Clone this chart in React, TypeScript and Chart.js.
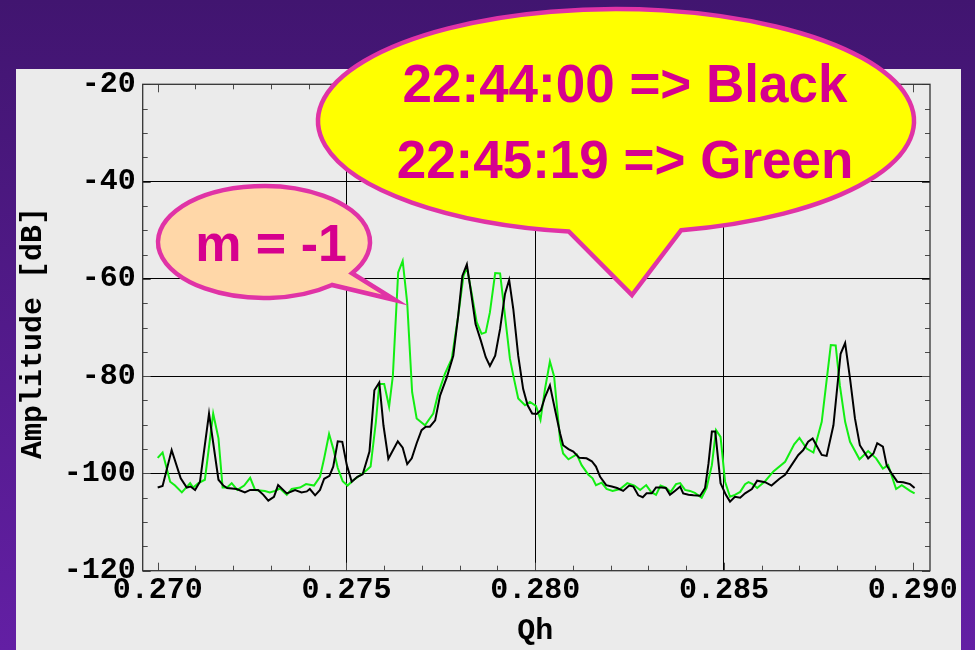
import React, { useEffect, useRef } from "react";
import { Chart, registerables } from "chart.js";

Chart.register(...registerables);

// ---- data ----
const blackQh = [
  0.27000, 0.27013, 0.27037, 0.27061, 0.27077, 0.27087, 0.27099, 0.27112, 0.27136, 0.27161,
  0.27174, 0.27184, 0.27209, 0.27231, 0.27245, 0.27266, 0.27280, 0.27293, 0.27308, 0.27319,
  0.27342, 0.27364, 0.27381, 0.27395, 0.27403, 0.27417, 0.27430, 0.27441, 0.27455, 0.27465,
  0.27477, 0.27489, 0.27501, 0.27514, 0.27529, 0.27543, 0.27561, 0.27574, 0.27587, 0.27598,
  0.27611, 0.27636, 0.27649, 0.27661, 0.27673, 0.27686, 0.27699, 0.27710, 0.27721, 0.27735,
  0.27748, 0.27766, 0.27783, 0.27796, 0.27807, 0.27819, 0.27830, 0.27842, 0.27856, 0.27869,
  0.27880, 0.27894, 0.27907, 0.27920, 0.27931, 0.27942, 0.27955, 0.27968, 0.27980, 0.27992,
  0.28004, 0.28015, 0.28026, 0.28039, 0.28052, 0.28066, 0.28074, 0.28088, 0.28101, 0.28117,
  0.28136, 0.28150, 0.28161, 0.28172, 0.28188, 0.28203, 0.28217, 0.28233, 0.28249, 0.28260,
  0.28273, 0.28285, 0.28295, 0.28309, 0.28320, 0.28335, 0.28346, 0.28357, 0.28370, 0.28384,
  0.28392, 0.28406, 0.28419, 0.28437, 0.28450, 0.28459, 0.28468, 0.28477, 0.28491, 0.28505,
  0.28516, 0.28529, 0.28543, 0.28556, 0.28574, 0.28588, 0.28609, 0.28626, 0.28647, 0.28662,
  0.28679, 0.28697, 0.28710, 0.28723, 0.28735, 0.28747, 0.28759, 0.28772, 0.28790, 0.28809,
  0.28821, 0.28834, 0.28847, 0.28860, 0.28882, 0.28896, 0.28906, 0.28921, 0.28931, 0.28944,
  0.28959, 0.28975, 0.28993, 0.29005,
];
const blackDb = [
  -102.9, -102.6, -95.2, -101.0, -102.9, -102.7, -103.4, -101.7, -87.7, -101.3,
  -102.5, -103.0, -103.2, -103.9, -103.4, -103.4, -104.4, -105.6, -104.8, -102.4,
  -104.1, -103.4, -103.9, -103.7, -103.2, -104.5, -103.4, -101.1, -100.5, -98.6,
  -93.4, -93.5, -98.3, -101.7, -100.7, -100.2, -95.5, -82.9, -81.3, -90.1,
  -97.0, -93.4, -94.7, -98.1, -96.9, -93.8, -91.1, -90.4, -90.4, -89.1,
  -84.0, -80.2, -75.8, -67.6, -59.4, -57.0, -62.8, -69.3, -72.7, -76.1,
  -77.9, -75.8, -70.3, -63.1, -60.2, -66.2, -75.8, -82.6, -86.0, -87.7,
  -87.8, -87.0, -84.3, -81.9, -86.7, -91.8, -94.2, -95.0, -95.5, -96.8,
  -96.9, -97.5, -98.6, -100.7, -102.4, -102.7, -103.0, -103.6, -102.5, -102.7,
  -104.5, -104.9, -104.1, -104.1, -102.9, -102.9, -103.0, -104.4, -103.6, -102.7,
  -104.1, -104.4, -104.5, -104.6, -103.0, -98.0, -91.4, -91.4, -102.0, -104.4,
  -105.8, -104.8, -105.0, -104.1, -103.2, -101.5, -101.8, -102.5, -101.1, -100.3,
  -98.3, -96.2, -95.2, -93.5, -92.8, -94.5, -96.2, -96.4, -90.1, -75.4,
  -73.2, -80.5, -88.7, -94.2, -96.9, -95.9, -93.8, -94.5, -98.3, -100.0,
  -101.7, -101.8, -102.2, -103.0,
];

const greenQh = [
  0.27000, 0.27013, 0.27033, 0.27046, 0.27064, 0.27086, 0.27094, 0.27108, 0.27125, 0.27147,
  0.27161, 0.27172, 0.27184, 0.27196, 0.27211, 0.27229, 0.27245, 0.27258, 0.27284, 0.27297,
  0.27311, 0.27324, 0.27342, 0.27355, 0.27377, 0.27393, 0.27414, 0.27430, 0.27441, 0.27454,
  0.27465, 0.27477, 0.27490, 0.27503, 0.27518, 0.27538, 0.27554, 0.27564, 0.27578, 0.27587,
  0.27600, 0.27613, 0.27623, 0.27637, 0.27649, 0.27661, 0.27674, 0.27686, 0.27708, 0.27730,
  0.27743, 0.27761, 0.27779, 0.27796, 0.27810, 0.27819, 0.27832, 0.27845, 0.27858, 0.27869,
  0.27880, 0.27894, 0.27907, 0.27920, 0.27933, 0.27942, 0.27955, 0.27973, 0.27986, 0.28002,
  0.28014, 0.28026, 0.28039, 0.28050, 0.28066, 0.28074, 0.28088, 0.28110, 0.28123, 0.28141,
  0.28152, 0.28161, 0.28176, 0.28189, 0.28205, 0.28225, 0.28244, 0.28263, 0.28278, 0.28294,
  0.28307, 0.28320, 0.28332, 0.28346, 0.28359, 0.28373, 0.28384, 0.28397, 0.28410, 0.28423,
  0.28441, 0.28454, 0.28468, 0.28479, 0.28491, 0.28503, 0.28516, 0.28529, 0.28543, 0.28556,
  0.28565, 0.28576, 0.28588, 0.28609, 0.28631, 0.28662, 0.28686, 0.28700, 0.28719, 0.28737,
  0.28759, 0.28783, 0.28796, 0.28807, 0.28821, 0.28834, 0.28859, 0.28882, 0.28903, 0.28921,
  0.28935, 0.28956, 0.28971, 0.28993, 0.29005,
];
const greenDb = [
  -96.8, -95.7, -101.7, -102.5, -103.9, -102.0, -102.9, -102.0, -101.3, -87.7,
  -92.8, -102.9, -102.9, -102.0, -103.4, -102.5, -100.9, -103.4, -103.6, -103.9,
  -103.6, -103.1, -104.4, -103.2, -102.9, -102.2, -102.5, -100.7, -96.9, -91.9,
  -94.9, -98.9, -101.6, -102.5, -101.4, -100.3, -99.3, -98.6, -89.4, -81.6,
  -81.6, -86.3, -79.9, -58.7, -56.3, -65.0, -83.3, -88.7, -90.1, -87.7,
  -83.6, -79.5, -76.4, -67.6, -59.4, -57.7, -63.1, -68.9, -71.3, -71.0,
  -66.9, -58.8, -58.9, -67.6, -76.4, -79.9, -84.6, -86.0, -85.3, -86.1,
  -89.0, -82.6, -77.0, -80.0, -93.2, -95.9, -97.1, -96.1, -98.3, -100.3,
  -101.0, -102.4, -101.9, -103.2, -103.6, -103.2, -102.0, -102.5, -103.4, -102.4,
  -103.8, -104.4, -102.5, -102.9, -103.8, -102.2, -102.0, -103.4, -103.6, -104.0,
  -105.0, -103.0, -98.3, -91.1, -92.5, -101.7, -104.8, -104.4, -103.8, -102.2,
  -101.8, -102.2, -103.0, -101.6, -99.6, -97.6, -94.0, -92.7, -94.9, -95.7,
  -89.4, -73.6, -73.7, -81.9, -89.4, -93.5, -97.1, -95.4, -96.9, -99.0,
  -98.3, -103.2, -102.4, -103.6, -104.1,
];

const xTickValues = [0.27, 0.275, 0.28, 0.285, 0.29];
const yTickValues = [-120, -100, -80, -60, -40, -20];
const xTitle = "Qh";
const yTitle = "Amplitude [dB]";
const bubbleLines = ["22:44:00 => Black", "22:45:19 => Green"];
const modeLabel = "m = -1";

const MONO = '"Liberation Mono", "Courier New", monospace';
const SANS = '"Liberation Sans", Arial, sans-serif';

function bubblePath(
  ctx: CanvasRenderingContext2D,
  cx: number, cy: number, rx: number, ry: number,
  baseA: number, baseB: number, tipX: number, tipY: number
) {
  ctx.beginPath();
  ctx.moveTo(tipX, tipY);
  ctx.lineTo(cx + rx * Math.cos(baseA), cy + ry * Math.sin(baseA));
  ctx.ellipse(cx, cy, rx, ry, 0, baseA, baseB, true);
  ctx.closePath();
}

const decorPlugin = {
  id: "decor",
  beforeDraw(chart: any) {
    const { ctx, width, height } = chart;
    ctx.save();
    const g = ctx.createLinearGradient(0, 0, 0, height);
    g.addColorStop(0, "#411570");
    g.addColorStop(1, "#631fa4");
    ctx.fillStyle = g;
    ctx.fillRect(0, 0, width, height);
    ctx.fillStyle = "#ebebeb";
    ctx.fillRect(16, 69, 945, 581);
    ctx.restore();
  },
  afterDatasetsDraw(chart: any) {
    const { ctx, chartArea, scales } = chart;
    const { left, right, top, bottom } = chartArea;
    const xs = scales.x;
    const ys = scales.y;
    ctx.save();
    // ticks (inward, on all four sides)
    ctx.strokeStyle = "#4a4a4a";
    ctx.lineWidth = 1;
    ctx.beginPath();
    for (let i = 0; i <= 20; i++) {
      const v = 0.27 + i * 0.001;
      const len = i % 5 === 0 ? 8 : 5;
      const px = Math.round(xs.getPixelForValue(v)) + 0.5;
      ctx.moveTo(px, bottom);
      ctx.lineTo(px, bottom - len);
      ctx.moveTo(px, top);
      ctx.lineTo(px, top + len);
    }
    for (let i = 0; i <= 20; i++) {
      const v = -120 + i * 5;
      const len = i % 4 === 0 ? 8 : 5;
      const py = Math.round(ys.getPixelForValue(v)) + 0.5;
      ctx.moveTo(left, py);
      ctx.lineTo(left + len, py);
      ctx.moveTo(right, py);
      ctx.lineTo(right - len, py);
    }
    ctx.stroke();
    // frame
    ctx.strokeStyle = "#333333";
    ctx.lineWidth = 1.3;
    ctx.strokeRect(left, top, right - left, bottom - top);

    // axis titles
    ctx.fillStyle = "#000";
    ctx.font = `bold 30px ${MONO}`;
    ctx.textAlign = "center";
    ctx.textBaseline = "middle";
    ctx.fillText(xTitle, (left + right) / 2 - 1, 631);
    ctx.save();
    ctx.translate(33, 333);
    ctx.rotate(-Math.PI / 2);
    ctx.fillText(yTitle, 0, 0);
    ctx.restore();
    ctx.restore();
  },
  afterDraw(chart: any) {
    const { ctx } = chart;
    ctx.save();
    ctx.lineJoin = "miter";
    // small bubble (peach)
    {
      const cx = 264, cy = 242, rx = 106, ry = 56;
      const a = Math.acos((352 - cx) / rx);
      const b = Math.acos((332 - cx) / rx);
      bubblePath(ctx, cx, cy, rx, ry, a, b, 395, 300);
      ctx.fillStyle = "#ffd7a8";
      ctx.fill();
      ctx.lineWidth = 4.5;
      ctx.strokeStyle = "#e033a6";
      ctx.stroke();
      ctx.fillStyle = "#d6008e";
      ctx.font = `bold 52px ${SANS}`;
      ctx.textAlign = "center";
      ctx.textBaseline = "alphabetic";
      ctx.fillText(modeLabel, 271, 261);
    }
    // big bubble (yellow)
    {
      const cx = 616, cy = 121, rx = 298, ry = 112;
      const a = Math.acos((681 - cx) / rx);
      const b = Math.acos((569 - cx) / rx);
      bubblePath(ctx, cx, cy, rx, ry, a, b, 632, 295);
      ctx.fillStyle = "#ffff00";
      ctx.fill();
      ctx.lineWidth = 4.5;
      ctx.strokeStyle = "#e033a6";
      ctx.stroke();
      ctx.fillStyle = "#d6008e";
      ctx.font = `bold 53px ${SANS}`;
      ctx.textAlign = "center";
      ctx.textBaseline = "alphabetic";
      ctx.fillText(bubbleLines[0], 625, 102);
      ctx.fillText(bubbleLines[1], 625, 178);
    }
    ctx.restore();
  },
};

export default function App() {
  const ref = useRef<HTMLCanvasElement | null>(null);

  useEffect(() => {
    if (!ref.current) return;
    const chart = new Chart(ref.current, {
      type: "line",
      data: {
        datasets: [
          {
            label: "22:44:00",
            data: blackQh.map((q, i) => ({ x: q, y: blackDb[i] })),
            borderColor: "#000000",
            borderWidth: 2,
            pointRadius: 0,
            tension: 0,
            fill: false,
          },
          {
            label: "22:45:19",
            data: greenQh.map((q, i) => ({ x: q, y: greenDb[i] })),
            borderColor: "#12ee12",
            borderWidth: 2,
            pointRadius: 0,
            tension: 0,
            fill: false,
          },
        ],
      },
      options: {
        animation: false,
        responsive: false,
        devicePixelRatio: 1,
        layout: { padding: { left: 0, top: 84.3, right: 45, bottom: 0 } },
        plugins: {
          legend: { display: false },
          tooltip: { enabled: false },
          title: { display: false },
        },
        scales: {
          x: {
            type: "linear",
            min: 0.269603,
            max: 0.290458,
            afterBuildTicks: (s: any) => {
              s.ticks = xTickValues.map((v) => ({ value: v }));
            },
            afterFit: (s: any) => {
              s.height = 650 - 570.7;
              s.paddingLeft = 0;
              s.paddingRight = 0;
            },
            ticks: {
              autoSkip: false,
              maxRotation: 0,
              minRotation: 0,
              padding: 2,
              color: "#000",
              font: { family: MONO, weight: "bold", size: 30 },
              callback: (v: any) => Number(v).toFixed(3),
            },
            grid: {
              drawTicks: false,
              lineWidth: 1,
              color: (c: any) =>
                c.tick && c.tick.value > 0.271 && c.tick.value < 0.289 ? "#000" : "rgba(0,0,0,0)",
            },
            border: { display: false },
          },
          y: {
            type: "linear",
            min: -120,
            max: -20,
            afterBuildTicks: (s: any) => {
              s.ticks = yTickValues.map((v) => ({ value: v }));
            },
            afterFit: (s: any) => {
              s.width = 142.7;
              s.paddingTop = 0;
              s.paddingBottom = 0;
            },
            ticks: {
              autoSkip: false,
              padding: 7,
              color: "#000",
              font: { family: MONO, weight: "bold", size: 30 },
              callback: (v: any) => String(v),
            },
            grid: {
              drawTicks: false,
              lineWidth: 1,
              color: (c: any) =>
                c.tick && c.tick.value > -119 && c.tick.value < -21 ? "#000" : "rgba(0,0,0,0)",
            },
            border: { display: false },
          },
        },
      },
      plugins: [decorPlugin],
    } as any);
    return () => chart.destroy();
  }, []);

  return (
    <div style={{ position: "absolute", left: 0, top: 0, width: 975, height: 650 }}>
      <canvas ref={ref} width={975} height={650} style={{ display: "block" }} />
    </div>
  );
}
